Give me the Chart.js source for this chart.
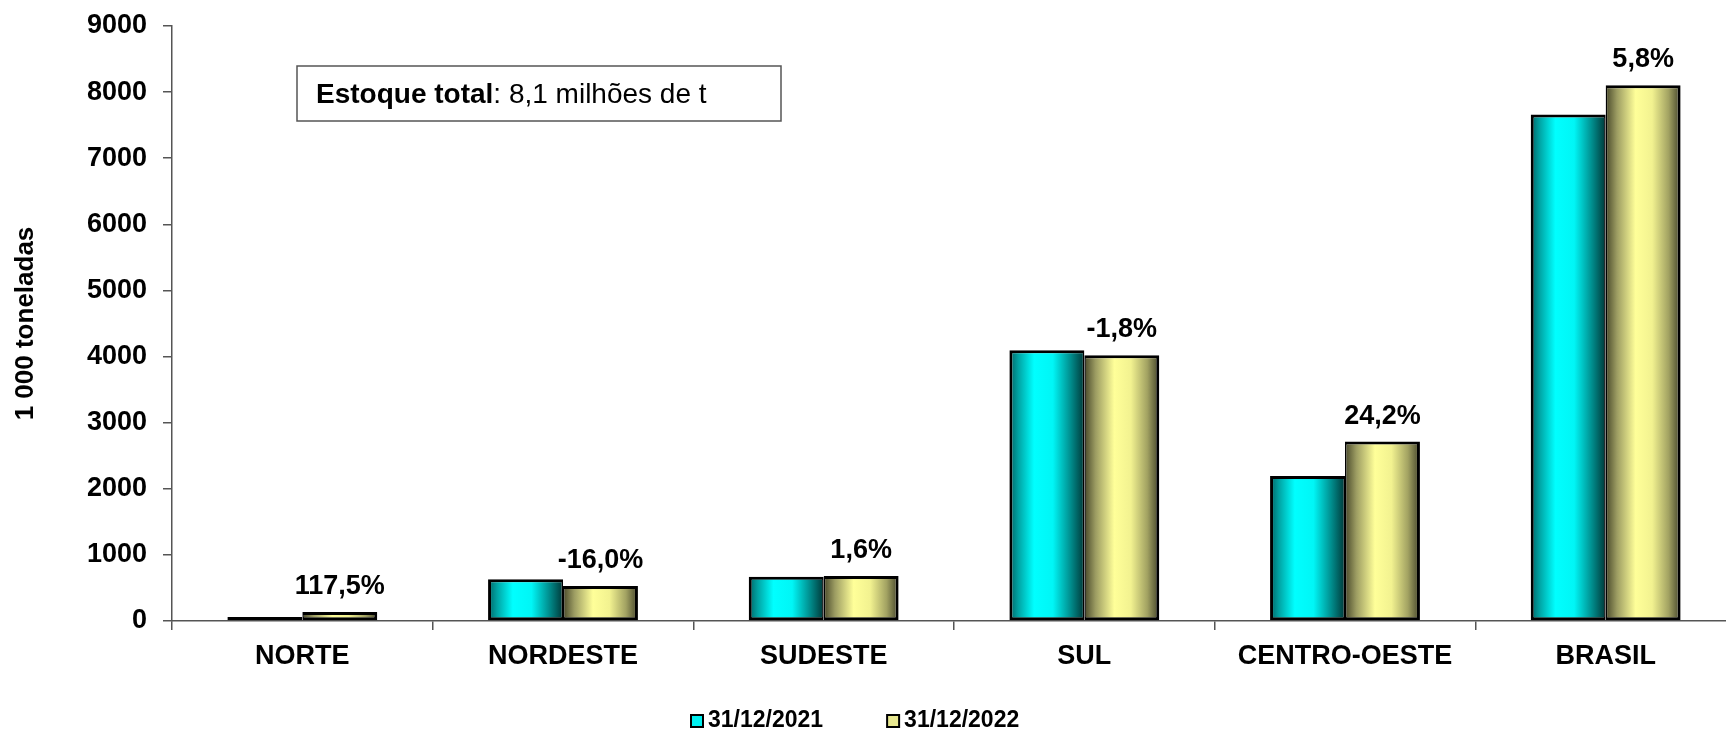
<!DOCTYPE html>
<html>
<head>
<meta charset="utf-8">
<script src="https://cdn.jsdelivr.net/npm/chart.js@4.4.0/dist/chart.umd.min.js"></script>
<style>
  html, body { margin: 0; padding: 0; background: #fff; overflow: hidden; }
  #wrap { width: 1736px; height: 730px; }
</style>
</head>
<body>
<div id="wrap"><canvas id="chart"></canvas></div>
<script>
// Chart data
const regions = ['NORTE', 'NORDESTE', 'SUDESTE', 'SUL', 'CENTRO-OESTE', 'BRASIL'];
const stock2021 = [62, 630, 668, 4095, 2195, 7661];
const stock2022 = [135, 529, 679, 4020, 2715, 8104];
const changeLabels = ['117,5%', '-16,0%', '1,6%', '-1,8%', '24,2%', '5,8%'];
const seriesNames = ['31/12/2021', '31/12/2022'];
const yMin = 0;
const yMax = 9000;
const yStep = 1000;

const FONT = '"Liberation Sans", Arial, sans-serif';
const CAT_PCT = 0.575;

const cyanStops = [[0, '#006464'], [0.12, '#00a4a4'], [0.33, '#00ffff'], [0.58, '#00f6f6'], [0.82, '#008c8c'], [1, '#003838']];
const yellowStops = [[0, '#48482a'], [0.15, '#9c9c62'], [0.4, '#ffff99'], [0.62, '#f2f290'], [0.84, '#a2a262'], [1, '#44442a']];
const legendColors = ['#00f0f0', '#e8e890'];

Chart.defaults.font.family = FONT;

// Horizontal gradient for each bar, built from the x scale
function barFill(stops, fallback) {
  return (context) => {
    const chart = context.chart;
    const xs = chart.scales.x;
    if (!xs || !xs.width || context.dataIndex === undefined) return fallback;
    const center = xs.getPixelForValue(context.dataIndex);
    if (!isFinite(center)) return fallback;
    const half = xs.width / regions.length * CAT_PCT / 2;
    const left = context.datasetIndex === 0 ? center - half : center;
    const g = chart.ctx.createLinearGradient(left, 0, left + half, 0);
    stops.forEach(([p, c]) => g.addColorStop(p, c));
    return g;
  };
}

// Percent change above the 2022 bars
const changeLabelsPlugin = {
  id: 'changeLabels',
  afterDatasetsDraw(chart) {
    const ctx = chart.ctx;
    const bars = chart.getDatasetMeta(1).data;
    ctx.save();
    ctx.font = 'bold 27px ' + FONT;
    ctx.fillStyle = '#000';
    ctx.textAlign = 'center';
    ctx.textBaseline = 'alphabetic';
    bars.forEach((bar, i) => ctx.fillText(changeLabels[i], bar.x, bar.y - 18));
    ctx.restore();
  }
};

// Total stock note box
const noteBoxPlugin = {
  id: 'noteBox',
  afterDraw(chart) {
    const ctx = chart.ctx;
    const a = chart.chartArea;
    const x = a.left + 125, y = a.top + 40, w = 484, h = 55;
    ctx.save();
    ctx.strokeStyle = '#555';
    ctx.lineWidth = 1.5;
    ctx.strokeRect(x, y, w, h);
    ctx.fillStyle = '#000';
    ctx.textBaseline = 'alphabetic';
    ctx.font = 'bold 28px ' + FONT;
    const boldText = 'Estoque total';
    ctx.fillText(boldText, x + 19, y + 37);
    const bw = ctx.measureText(boldText).width;
    ctx.font = '28px ' + FONT;
    ctx.fillText(': 8,1 milhões de t', x + 19 + bw, y + 37);
    ctx.restore();
  }
};

// Legend at the bottom
const legendPlugin = {
  id: 'bottomLegend',
  afterDraw(chart) {
    const ctx = chart.ctx;
    ctx.save();
    ctx.font = 'bold 23px ' + FONT;
    ctx.textBaseline = 'alphabetic';
    let x = 691;
    seriesNames.forEach((name, i) => {
      ctx.fillStyle = legendColors[i];
      ctx.fillRect(x, 715, 12, 12);
      ctx.strokeStyle = '#000';
      ctx.lineWidth = 2;
      ctx.strokeRect(x, 715, 12, 12);
      ctx.fillStyle = '#000';
      ctx.fillText(name, x + 17, 727);
      x += 17 + ctx.measureText(name).width + 64;
    });
    ctx.restore();
  }
};

new Chart(document.getElementById('chart'), {
  type: 'bar',
  data: {
    labels: regions,
    datasets: [
      {
        label: seriesNames[0],
        data: stock2021,
        backgroundColor: barFill(cyanStops, '#00f0f0'),
        borderColor: '#000',
        borderWidth: { top: 3, left: 3, bottom: 3, right: 1.5 },
        borderSkipped: false
      },
      {
        label: seriesNames[1],
        data: stock2022,
        backgroundColor: barFill(yellowStops, '#e8e890'),
        borderColor: '#000',
        borderWidth: { top: 3, left: 1.5, bottom: 3, right: 3 },
        borderSkipped: false
      }
    ]
  },
  options: {
    responsive: true,
    maintainAspectRatio: false,
    animation: false,
    categoryPercentage: CAT_PCT,
    barPercentage: 1,
    layout: { padding: { top: 26, left: 0, right: 0, bottom: 0 } },
    plugins: {
      legend: { display: false },
      tooltip: { enabled: false }
    },
    scales: {
      x: {
        ticks: { padding: 10, color: '#000', font: { size: 27, weight: 'bold' } },
        grid: { drawOnChartArea: false, tickLength: 9, color: '#555', lineWidth: 1.5, offset: true },
        border: { color: '#555', width: 1.5 },
        afterFit: (s) => { s.height = 109; }
      },
      y: {
        min: yMin,
        max: yMax,
        ticks: {
          stepSize: yStep,
          padding: 16,
          color: '#000',
          font: { size: 27, weight: 'bold' },
          callback: (v) => String(v)
        },
        grid: { drawOnChartArea: false, tickLength: 9, color: '#555', lineWidth: 1.5 },
        border: { color: '#555', width: 1.5 },
        title: {
          display: true,
          text: '1 000 toneladas',
          color: '#000',
          font: { size: 26, weight: 'bold' },
          padding: { top: 10, bottom: 0 }
        },
        afterFit: (s) => { s.width = 172; s.paddingTop = 0; s.paddingBottom = 0; }
      }
    }
  },
  plugins: [changeLabelsPlugin, noteBoxPlugin, legendPlugin]
});
</script>
</body>
</html>
